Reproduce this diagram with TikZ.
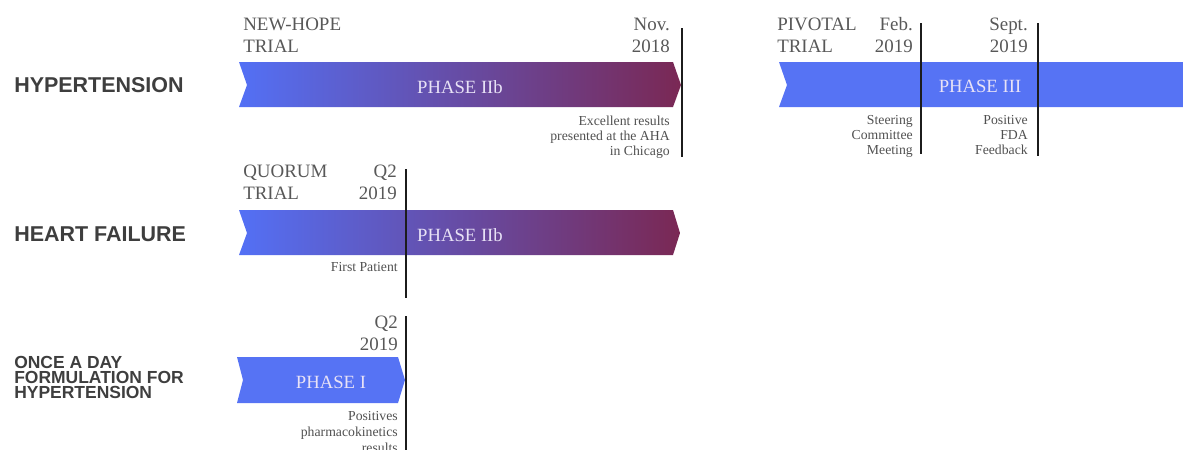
\documentclass[tikz,border=0pt]{standalone}
\usepackage{fontspec}
\setmainfont{Liberation Serif}
\newfontfamily\lsans{Liberation Sans}
\definecolor{barblue}{RGB}{83,112,245}
\definecolor{barsolid}{RGB}{86,115,244}
\definecolor{barmaroon}{RGB}{122,40,84}
\definecolor{hdrgray}{RGB}{88,88,88}
\definecolor{notegray}{RGB}{80,80,80}
\definecolor{lblgray}{RGB}{62,62,62}
\definecolor{phasetxt}{RGB}{232,226,246}
\definecolor{mline}{RGB}{28,28,28}
\tikzset{
  lbl/.style={font=\lsans\bfseries\fontsize{16.1}{16}\selectfont, text=lblgray, anchor=base west, inner sep=0pt},
  lblsmall/.style={font=\lsans\bfseries\fontsize{13.1}{10.9}\selectfont, text=lblgray, anchor=base west, inner sep=0pt, align=left},
  hdrl/.style={font=\fontsize{14.2}{16.5}\selectfont, text=hdrgray, anchor=base west, inner sep=0pt, align=left},
  hdrr/.style={font=\fontsize{14.2}{16.5}\selectfont, text=hdrgray, anchor=base east, inner sep=0pt, align=right},
  note/.style={font=\fontsize{10.3}{11.25}\selectfont, text=notegray, anchor=base east, inner sep=0pt, align=right},
  phase/.style={font=\fontsize{14}{16}\selectfont, text=phasetxt, anchor=base, inner sep=0pt},
  gradbar/.style={left color=barblue, right color=barmaroon, draw=none},
  solidbar/.style={fill=barsolid, draw=none},
  mileline/.style={draw=mline, line width=1.3pt},
}
\begin{document}
\begin{tikzpicture}[x=0.75pt, y=-0.75pt]
\useasboundingbox (0,0) rectangle (1183,450);

% left labels
\node[lbl] (lhyp) at (14,92) {HYPERTENSION};
\node[lbl] (lhf) at (14,241) {HEART FAILURE};
\node[lblsmall] (lonce) at (14,398) {ONCE A DAY\\FORMULATION FOR\\HYPERTENSION};

% bars
\shade[gradbar] (239,62) -- (673,62) -- (681,85) -- (673,107) -- (239,107) -- (247,85) -- cycle;
\fill[solidbar] (779,62) -- (1183,62) -- (1183,107) -- (779,107) -- (787,85) -- cycle;
\shade[gradbar] (239,210) -- (673,210) -- (680,233) -- (673,255) -- (239,255) -- (247,233) -- cycle;
\fill[solidbar] (237,357) -- (398,357) -- (405,380) -- (398,403) -- (237,403) -- (243,380) -- cycle;

% phase labels
\node[phase] (p1) at (460,93) {PHASE IIb};
\node[phase] (p2) at (980,92) {PHASE III};
\node[phase] (p3) at (460,241) {PHASE IIb};
\node[phase] (p4) at (331,388) {PHASE I};

% milestone lines
\coordinate (n1a) at (682,28); \coordinate (n1b) at (682,157);
\coordinate (f1a) at (921,23); \coordinate (f1b) at (921,154);
\coordinate (s1a) at (1038,23); \coordinate (s1b) at (1038,156);
\coordinate (q1a) at (406,169); \coordinate (q1b) at (406,298);
\coordinate (q2a) at (406,316); \coordinate (q2b) at (406,452);
\draw[mileline] (n1a) -- (n1b);
\draw[mileline] (f1a) -- (f1b);
\draw[mileline] (s1a) -- (s1b);
\draw[mileline] (q1a) -- (q1b);
\draw[mileline] (q2a) -- (q2b);

% headers (anchor at baseline of last line)
\node[hdrl] (hnh) at (243,52) {NEW-HOPE\\TRIAL};
\node[hdrr] (hnov) at (670,52) {Nov.\\2018};
\node[hdrl] (hpiv) at (777,52) {PIVOTAL\\TRIAL};
\node[hdrr] (hfeb) at (913,52) {Feb.\\2019};
\node[hdrr] (hsep) at (1028,52) {Sept.\\2019};
\node[hdrl] (hquo) at (243,199) {QUORUM\\TRIAL};
\node[hdrr] (hq2a) at (397,199) {Q2\\2019};
\node[hdrr] (hq2b) at (398,350) {Q2\\2019};

% notes (anchor at baseline of last line)
\node[note] (nexc) at (670,155) {Excellent results\\presented at the AHA\\in Chicago};
\node[note] (nste) at (913,154) {Steering\\Committee\\Meeting};
\node[note] (npos) at (1028,154) {Positive\\FDA\\Feedback};
\node[note] (nfp) at (398,271) {First Patient};
\node[note, font=\fontsize{10.3}{12}\selectfont] (npk) at (398,452) {Positives\\pharmacokinetics\\results};
\end{tikzpicture}
\end{document}
